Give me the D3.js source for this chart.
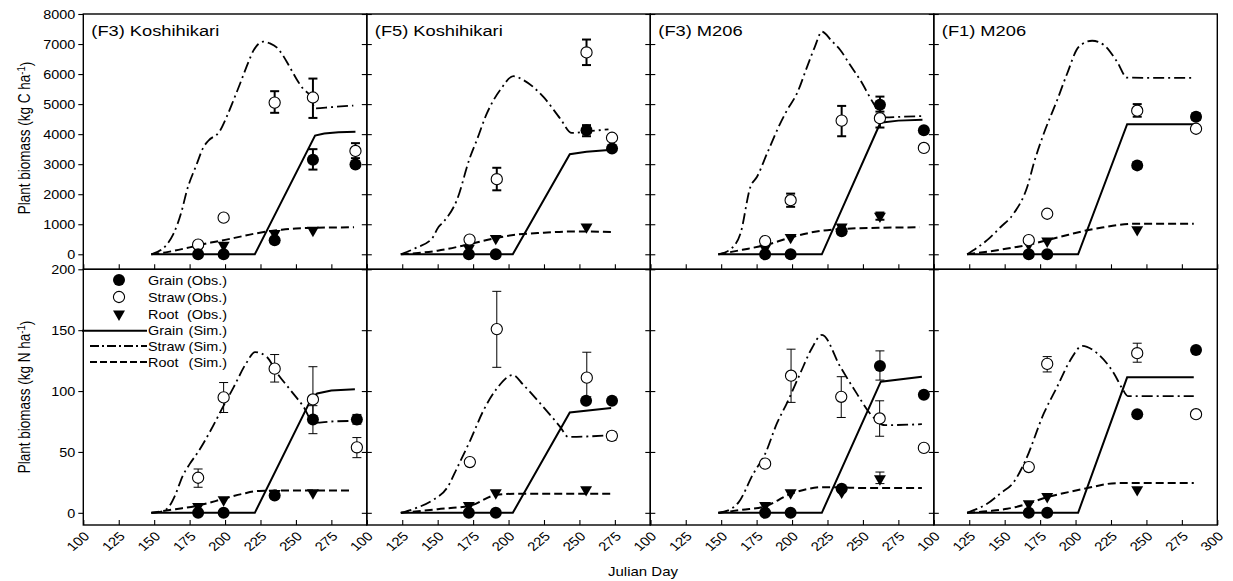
<!DOCTYPE html>
<html><head><meta charset="utf-8">
<script src="https://cdn.jsdelivr.net/npm/d3@7"></script>
<style>body{margin:0;background:#fff}text{font-family:"Liberation Sans",Arial,sans-serif;fill:#000}</style>
</head><body>
<svg id="chart" width="1233" height="581"></svg>
<script>
// ---------- data ----------
const titles = ["(F3) Koshihikari", "(F5) Koshihikari", "(F3) M206", "(F1) M206"];
const dayTicks = [100, 125, 150, 175, 200, 225, 250, 275, 300];
const cTicks = [0, 1000, 2000, 3000, 4000, 5000, 6000, 7000, 8000];
const nTicks = [0, 50, 100, 150, 200];
const legendNames = ["Grain", "Straw", "Root", "Grain", "Straw", "Root"];
const legendParens = ["(Obs.)", "(Obs.)", "(Obs.)", "(Sim.)", "(Sim.)", "(Sim.)"];
const xTitle = "Julian Day";

// observed: [day, value, errLow, errHigh]  (one list per panel)
const obsGrainC = [
  [[181,0],[199,0],[235,470],[262,3150,2820,3500],[292,2990,2890,3090]],
  [[172,0],[191,0],[255,4130,3930,4300],[273,3520]],
  [[181,0],[199,0],[235,770],[262,4980,4750,5250],[293,4130]],
  [[167,0],[180,0],[243.5,2960,2860,3060],[285,4580,4470,4690]]
];
const obsStrawC = [
  [[181,320],[199,1220],[235,5050,4710,5430],[262,5220,4540,5850],[292,3440,3200,3700]],
  [[172.5,490],[191.7,2500,2130,2880],[255,6720,6300,7150],[273,3880]],
  [[181,440],[199,1800,1580,2020],[235,4450,3930,4940],[262,4530,4220,4870],[293,3540]],
  [[167,470],[180,1350],[243.5,4780,4580,5000],[285,4180]]
];
const obsRootC = [
  [[181,150],[199,300],[235,690],[262,800]],
  [[172,200],[191,530],[255,910]],
  [[181,200],[199,560],[235,910],[262,1270,1150,1390]],
  [[167,330],[180,440],[243.5,820]]
];
const simGrainC = [
  [[148,0],[221,0],[263.5,3950],[270,4020],[280,4060],[292,4080]],
  [[124,0],[203,0],[243.2,3330],[255,3410],[273,3480]],
  [[148,0],[221,0],[262.3,4380],[275,4450],[292,4480]],
  [[123.5,0],[201.8,0],[236.4,4330],[283.4,4330]]
];
const simStrawC = [
  [[148,0],[159,330],[163.5,670],[169.4,1440],[173,2110],[180,3000],[184.7,3560],[188.2,3780],[196.4,4110],[201,4560],[205.8,5110],[210.5,5670],[216.4,6390],[220,6780],[223.5,7000],[227,7080],[231.7,7020],[236.4,6890],[241,6610],[245.8,6220],[250.5,5830],[255.2,5500],[260,5280],[263.5,4860],[275,4900],[290.5,4950]],
  [[124,0],[135,220],[145.9,520],[150.6,910],[154.1,1080],[163.5,1800],[172.9,3240],[177.6,3800],[184.7,4690],[189.4,5130],[194.1,5470],[203.5,5930],[210.5,5800],[224.6,5240],[236.4,4520],[244.6,4040],[255,4090],[270.5,4160]],
  [[148,0],[156,150],[163.6,690],[170.6,2240],[175.3,2580],[182.4,3360],[191.7,4360],[196.5,4800],[203.5,5360],[210.6,6240],[216,6900],[221.1,7410],[228,7100],[234,6800],[241,6300],[248.1,5800],[257.5,5020],[262.3,4690],[265.7,4560],[278,4580],[291.6,4600]],
  [[123.5,0],[130,200],[137.6,470],[147,900],[156.4,1360],[165.9,2240],[171,3100],[177.6,4020],[187,5130],[194.1,6020],[202.3,6910],[211.7,7110],[219.9,6970],[229.3,6410],[236.4,5880],[283.4,5870]]
];
const simRootC = [
  [[148,0],[160,80],[175,230],[190,390],[200,480],[210,580],[220,680],[230,760],[240,820],[250,860],[263,880],[291,900]],
  [[124,0],[150,120],[172,330],[192,550],[205,650],[225,720],[245,760],[273,745]],
  [[148,0],[165,150],[180.7,300],[199.3,560],[215,740],[234,840],[261,880],[290,900]],
  [[123.5,0],[140,100],[151.8,190],[165,300],[180,470],[195,650],[208.2,800],[220,900],[229.3,970],[243.5,1020],[283.4,1020]]
];

const obsGrainN = [
  [[181,0],[199,0],[235,14.3],[262,76.7,65,88],[293,76.7,72.8,80.8]],
  [[172,0],[191,0],[254.7,92],[273,92]],
  [[181,0],[199,0],[235,19.8],[262,120.6,109,133],[293,97]],
  [[167,0],[180,0],[243.5,81],[285,133.8]]
];
const obsStrawN = [
  [[181,28.8,21,36],[199,94.8,82.4,107],[235,118.4,107.4,130],[262,93.1,76.7,120],[293,53.8,45.3,61.8]],
  [[172.7,41.7],[191.7,150.9,119.5,181.9],[255.2,111,95.3,131.9],[272.9,63.2,59.6,66.5]],
  [[181,40.4],[199.3,112.6,90.7,134.4],[234.7,95.3,78.3,111.8],[261.8,77.5,62.9,92],[293,53.3]],
  [[167,37.6],[180,122.3,115.7,128.3],[243.5,131.1,123.7,139.3],[285,81]]
];
const obsRootN = [
  [[181,5.2],[199,10.7],[235,16],[262,16.5]],
  [[172,6],[191,16.5],[254.7,19]],
  [[181,6],[199,16.5],[235,17],[262,28,24,33.5]],
  [[167,7.4],[180,13.4],[243.5,19]]
];
const simGrainN = [
  [[148,0],[221,0],[261,94],[265,98],[275,100.5],[291.6,101.5]],
  [[124,0],[203,0],[243.2,82.4],[272.4,86]],
  [[148,0],[221,0],[262.6,107.7],[291.6,111.8]],
  [[123.5,0],[201.8,0],[236.4,111.3],[283.4,111.3]]
];
const simStrawN = [
  [[148,0],[155,1],[161,6],[165,15],[170,30],[175,40],[181,50],[190,68],[199,88],[206,103],[215,123],[221.2,132],[229.5,128],[236.6,115],[246,101],[255.4,87],[262.5,74],[275,75],[290.7,75.5]],
  [[124,0],[135,4],[145.9,10],[156.9,21],[164,37.6],[173,59.6],[182.4,84.3],[191.7,102],[203,113.2],[210.5,105],[222.3,89.9],[236.4,70.6],[242.2,62.3],[270.5,63.7]],
  [[148,0],[155,2],[162.4,8.8],[172.6,32],[181.1,48.6],[189.3,73.4],[196.3,89.9],[205.8,114.6],[214,135.2],[221.1,146.2],[234,120],[245.6,98.1],[255,81.6],[265.6,72],[291.6,72.8]],
  [[123.5,0],[130,3],[137.6,7.4],[147,16],[156.4,25.2],[164.7,43],[177.6,81.6],[187,103.5],[196.4,125.5],[204.7,137.1],[215.2,131.1],[227,114.6],[232.9,102.2],[236.9,95.9],[283.4,95.9]]
];
const simRootN = [
  [[148,0],[165,3],[181,6],[199,11.5],[212,15.5],[224,18],[240,18.3],[290,18.3]],
  [[124,0],[150,3],[173,6],[191.7,14.8],[206,15.7],[272.4,15.7]],
  [[148,0],[165,2.5],[180.7,5.2],[199.3,15.7],[222.4,21.1],[257.7,20.3],[291.6,20.3]],
  [[123.5,0],[140,1.5],[151.8,3.3],[165,7],[180,12.9],[195,17],[208.2,20.3],[229.3,24.4],[283.4,24.4]]
];

// ---------- layout ----------
const svg = d3.select("#chart");
const left = 83.3, pw = 283.5, topY = 14, midY = 269.3, botY = 525;
const SX = 1.2; // horizontal text stretch of the original figure

const xs = titles.map((t, i) => d3.scaleLinear().domain([100, 300]).range([left + i * pw, left + (i + 1) * pw]));
const yC = d3.scaleLinear().domain([-500, 8000]).range([midY, topY]);
const yN = d3.scaleLinear().domain([-10, 200]).range([botY, midY]);

const STRAW_DASH = "11,4,2,4", ROOT_DASH = "8,4";

function stretchAxisText(g, dx) {
  g.selectAll(".tick text")
    .attr("x", 0).attr("dy", "0.35em")
    .attr("transform", `translate(${dx},0) scale(${SX},1)`)
    .style("font-size", "12px");
}

function drawPanel(i, y, ticks, obsG, obsS, obsR, simG, simS, simR, isTop, errW) {
  const x = xs[i];
  const [x0, x1] = x.range();
  const [yb, yt] = y.range();
  const g = svg.append("g");

  // y axis (left), outward ticks
  const ya = g.append("g").attr("transform", `translate(${x0},0)`)
    .call(d3.axisLeft(y).tickValues(ticks).tickSize(5).tickSizeOuter(0)
      .tickFormat(i === 0 ? d3.format("d") : () => ""));
  ya.select(".domain").remove();
  ya.selectAll("line").attr("stroke-width", 1.1);
  stretchAxisText(ya, -8);
  ya.selectAll(".tick text").attr("text-anchor", "end");

  if (i < 3) {
    const yr = g.append("g").attr("transform", `translate(${x1},0)`)
      .call(d3.axisRight(y).tickValues(ticks).tickSize(5).tickSizeOuter(0).tickFormat(() => ""));
    yr.select(".domain").remove();
    yr.selectAll("line").attr("stroke-width", 1.1);
  }

  // x axis, inward ticks
  const xa = g.append("g").attr("transform", `translate(0,${yb})`)
    .call(d3.axisBottom(x).tickValues(dayTicks).tickSize(-5).tickSizeOuter(0)
      .tickFormat(d => (isTop || (i < 3 && d === 300)) ? "" : d));
  xa.select(".domain").remove();
  xa.selectAll("line").attr("stroke-width", 1.1);
  if (!isTop) {
    xa.selectAll(".tick text")
      .attr("x", 0).attr("y", 0).attr("dy", "0.35em")
      .attr("text-anchor", "end")
      .attr("transform", `translate(3,9) scale(${SX},1) rotate(-45)`)
      .style("font-size", "12.5px");
  }

  // frame
  g.append("rect").attr("x", x0).attr("y", yt).attr("width", x1 - x0).attr("height", yb - yt)
    .attr("fill", "none").attr("stroke", "#000").attr("stroke-width", 1.4);

  // simulated lines
  const line = d3.line().x(d => x(d[0])).y(d => y(d[1]));
  const smooth = d3.line().x(d => x(d[0])).y(d => y(d[1])).curve(d3.curveMonotoneX);
  g.append("path").attr("d", smooth(simR[i])).attr("fill", "none").attr("stroke", "#000")
    .attr("stroke-width", 2).attr("stroke-dasharray", ROOT_DASH);
  g.append("path").attr("d", smooth(simS[i])).attr("fill", "none").attr("stroke", "#000")
    .attr("stroke-width", 1.8).attr("stroke-dasharray", STRAW_DASH);
  g.append("path").attr("d", line(simG[i])).attr("fill", "none").attr("stroke", "#000")
    .attr("stroke-width", 2);

  // error bars
  const all = [].concat(obsR[i], obsS[i], obsG[i]).filter(d => d.length > 2);
  const eb = g.append("g").attr("stroke", "#000").attr("stroke-width", errW);
  all.forEach(d => {
    const cx = x(d[0]);
    eb.append("line").attr("x1", cx).attr("x2", cx).attr("y1", y(d[2])).attr("y2", y(d[3]));
    eb.append("line").attr("x1", cx - 4.5).attr("x2", cx + 4.5).attr("y1", y(d[2])).attr("y2", y(d[2]));
    eb.append("line").attr("x1", cx - 4.5).attr("x2", cx + 4.5).attr("y1", y(d[3])).attr("y2", y(d[3]));
  });

  // observed markers
  const tri = d3.symbol(d3.symbolTriangle, 62)();
  g.selectAll(null).data(obsR[i]).join("path").attr("d", tri)
    .attr("transform", d => `translate(${x(d[0])},${y(d[1])}) rotate(180)`).attr("fill", "#000");
  g.selectAll(null).data(obsS[i]).join("circle")
    .attr("cx", d => x(d[0])).attr("cy", d => y(d[1])).attr("r", 5.6)
    .attr("fill", "#fff").attr("stroke", "#000").attr("stroke-width", 1.1);
  g.selectAll(null).data(obsG[i]).join("circle")
    .attr("cx", d => x(d[0])).attr("cy", d => y(d[1])).attr("r", 6)
    .attr("fill", "#000");

  if (isTop) {
    g.append("text").attr("transform", `translate(${x0 + 8},36) scale(1.18,1)`)
      .style("font-size", "15.5px").text(titles[i]);
  }
}

for (let i = 0; i < 4; i++) {
  drawPanel(i, yC, cTicks, obsGrainC, obsStrawC, obsRootC, simGrainC, simStrawC, simRootC, true, 2);
  drawPanel(i, yN, nTicks, obsGrainN, obsStrawN, obsRootN, simGrainN, simStrawN, simRootN, false, 1);
}

// y axis titles
function yTitle(cy, unit) {
  const t = svg.append("text").attr("text-anchor", "middle")
    .attr("transform", `translate(30,${cy}) scale(${SX},1) rotate(-90)`)
    .style("font-size", "13.5px");
  t.append("tspan").text(`Plant biomass (kg ${unit} ha`);
  t.append("tspan").attr("dy", "-0.45em").style("font-size", "9.5px").text("-1");
  t.append("tspan").attr("dy", "0.45em").text(")");
}
yTitle(138, "C");
yTitle(397, "N");

svg.append("text").attr("text-anchor", "middle")
  .attr("transform", `translate(643,576) scale(${SX},1)`)
  .style("font-size", "12.5px").text(xTitle);

// legend (in bottom-left panel)
const lg = svg.append("g");
const legRowY = [280, 297, 314, 330.7, 346, 362];
const tri = d3.symbol(d3.symbolTriangle, 62)();
lg.append("circle").attr("cx", 119).attr("cy", legRowY[0]).attr("r", 6).attr("fill", "#000");
lg.append("circle").attr("cx", 119).attr("cy", legRowY[1]).attr("r", 5.6).attr("fill", "#fff").attr("stroke", "#000").attr("stroke-width", 1.1);
lg.append("path").attr("d", tri).attr("transform", `translate(119,${legRowY[2]}) rotate(180)`);
lg.append("line").attr("x1", 82).attr("x2", 147).attr("y1", legRowY[3]).attr("y2", legRowY[3]).attr("stroke", "#000").attr("stroke-width", 2);
lg.append("line").attr("x1", 90).attr("x2", 147).attr("y1", legRowY[4]).attr("y2", legRowY[4]).attr("stroke", "#000").attr("stroke-width", 2).attr("stroke-dasharray", "9,3,2,3");
lg.append("line").attr("x1", 90).attr("x2", 147).attr("y1", legRowY[5]).attr("y2", legRowY[5]).attr("stroke", "#000").attr("stroke-width", 2).attr("stroke-dasharray", "7,3");
legendNames.forEach((n, k) => {
  lg.append("text").attr("transform", `translate(148,${legRowY[k] + 4.5}) scale(${SX},1)`)
    .style("font-size", "12px").text(n);
  lg.append("text").attr("text-anchor", "end").attr("transform", `translate(227,${legRowY[k] + 4.5}) scale(${SX},1)`)
    .style("font-size", "12px").text(legendParens[k]);
});
</script>
</body></html>
